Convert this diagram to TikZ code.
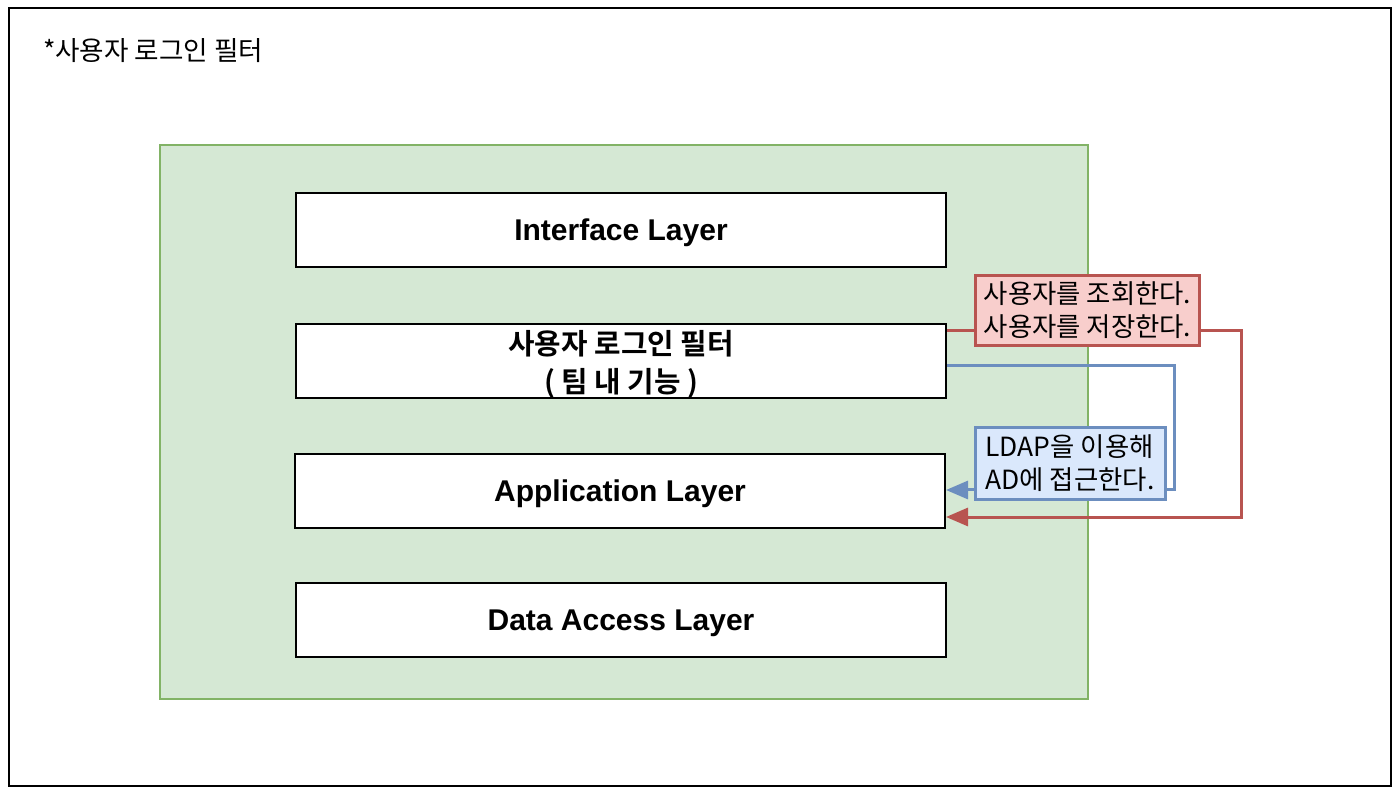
\documentclass[tikz,border=0pt]{standalone}
\usepackage{fontspec}
\setmainfont{Liberation Sans}
\newfontfamily\kr{Noto Sans CJK KR}[BoldFont={Noto Sans CJK KR Bold}]
\usetikzlibrary{arrows.meta}
\definecolor{frameGreen}{HTML}{82B366}
\definecolor{fillGreen}{HTML}{D5E8D4}
\definecolor{lineRed}{HTML}{B85450}
\definecolor{fillRed}{HTML}{F8CECC}
\definecolor{lineBlue}{HTML}{6C8EBF}
\definecolor{fillBlue}{HTML}{DAE8FC}
\tikzset{
  layerbox/.style={draw=black, line width=1pt, fill=white, minimum width=325pt,
    minimum height=37pt, inner sep=0pt, align=center, text depth=0pt,
    font=\fontsize{15}{18}\selectfont\bfseries},
  notebox/.style={draw=#1, line width=1.5pt, inner sep=3pt, align=left,
    font=\kr\fontsize{13.2}{16.5}\selectfont},
  link/.style={draw=#1, line width=1.5pt, -{Triangle[length=11pt,width=9pt]}},
}
\begin{document}
\begin{tikzpicture}[x=0.5pt,y=-0.5pt]
\useasboundingbox (0,0) rectangle (1400,795);
% outer frame and title
\draw[line width=1pt] (9,8) rectangle (1391,786);
\node[anchor=west, font=\kr\fontsize{13.3}{16}\selectfont] (title) at (36,51) {*사용자 로그인 필터};
% layer stack
\draw[draw=frameGreen, fill=fillGreen, line width=1pt] (160,145) rectangle (1088,699);
\node[layerbox] (iface) at (621,230) {Interface Layer};
\node[layerbox, text depth=, font=\kr\fontsize{14.4}{19}\selectfont\bfseries] (filter) at (621,361) {\rule{0pt}{15pt}사용자 로그인 필터\\( 팀 내 기능 )};
\node[layerbox] (app) at (620,491) {Application Layer};
\node[layerbox] (dal) at (621,620) {Data Access Layer};
% connectors
\draw[link=lineRed] ([yshift=15pt]filter.east) -- ++(294,0) |- ([yshift=-13pt]app.east);
\draw[link=lineBlue] ([yshift=-2.5pt]filter.east) -- ++(227,0) |- ([yshift=0.5pt]app.east);
% labels on the connectors
\node[notebox=lineRed, fill=fillRed, minimum width=112pt, minimum height=35pt] (findnote) at (1087.5,310.5) {사용자를 조회한다.\\사용자를 저장한다.};
\node[notebox=lineBlue, fill=fillBlue, minimum width=95pt, minimum height=36pt] (ldapnote) at (1070,463.5) {LDAP을 이용해\\AD에 접근한다.};
\end{tikzpicture}
\end{document}
